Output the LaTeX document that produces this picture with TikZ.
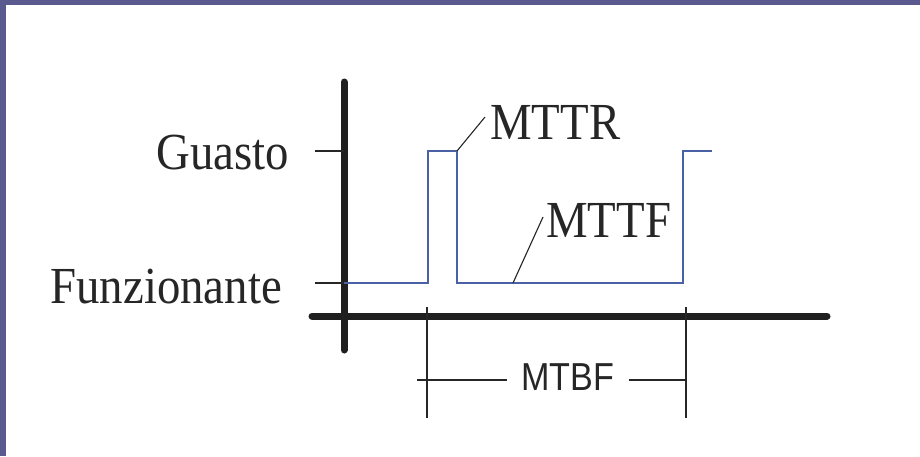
\documentclass[tikz,border=0pt]{standalone}
\usepackage{fontspec}
\newfontfamily\labelfont[FakeStretch=0.9]{Liberation Serif}
\newfontfamily\dimfont[FakeStretch=0.875]{Liberation Sans}
\usetikzlibrary{positioning, calc}

\definecolor{framepurple}{RGB}{90,90,142}
\definecolor{signalblue}{RGB}{74,98,165}

\begin{document}
\begin{tikzpicture}[
  x=1pt, y=-1pt,
  axis/.style={line width=7pt, line cap=round, black!88},
  tickmark/.style={line width=2.6pt, black!85},
  signal/.style={line width=2.8pt, signalblue},
  leader/.style={line width=1.1pt, black!85},
  statelabel/.style={font=\labelfont\fontsize{52}{55}\selectfont, inner sep=0pt,
                     anchor=base east, text=black!85},
  timelabel/.style={font=\labelfont\fontsize{52}{55}\selectfont, inner sep=0pt,
                    anchor=base west, text=black!85},
]

% ---- sfondo ----
\fill[framepurple] (0,0) rectangle (920,456);
\fill[white] (6,5) rectangle (920,456);
\useasboundingbox (0,0) rectangle (920,456);

% ---- assi ----
\coordinate (xa) at (312,316);
\coordinate (xb) at (827,316);
\coordinate (ya) at (344,82);
\coordinate (yb) at (344,350);
\draw[axis] (xa) -- (xb);
\draw[axis] (ya) -- (yb);

\coordinate (g0) at (315,151);
\coordinate (f0) at (315,283);
\draw[tickmark] (g0) -- (g0 -| ya);
\draw[tickmark] (f0) -- (f0 -| ya);

\node[statelabel] (guasto) at (289,169) {Guasto};
\node[statelabel] (funz)   at (282,303) {Funzionante};

% ---- stato del sistema ----
\coordinate (s0) at (344,283);
\coordinate (s1) at (428,283);
\coordinate (s2) at (428,151);
\coordinate (s3) at (457,151);
\coordinate (s4) at (457,283);
\coordinate (s5) at (683,283);
\coordinate (s6) at (683,151);
\coordinate (s7) at (712,151);
\draw[signal] (s0) -- (s1) -- (s2) -- (s3) -- (s4) -- (s5) -- (s6) -- (s7);

% ---- etichette ----
\node[timelabel] (mttr) at (490,139) {MTTR};
\node[timelabel] (mttf) at (546,237) {MTTF};
\coordinate (rr) at (513,283);
\draw[leader] (s3) -- ($(mttr.base west)+(-5,-22)$);
\draw[leader] (rr) -- ($(mttf.base west)+(-3,-20)$);

% ---- quota MTBF ----
\coordinate (da) at (427,307);
\coordinate (db) at (686,307);
\coordinate (dl) at (417,380);
\coordinate (dr) at (686,380);
\draw[leader] (da) -- ++(0,111);
\draw[leader] (db) -- ++(0,111);
\node[font=\dimfont\fontsize{39}{42}\selectfont, inner xsep=14pt, inner ysep=0pt,
      anchor=base, text=black!85] (mtbf) at (568,390) {MTBF};
\draw[leader] (dl) -- (mtbf.west |- dl);
\draw[leader] (mtbf.east |- dr) -- (dr);

\end{tikzpicture}
\end{document}
